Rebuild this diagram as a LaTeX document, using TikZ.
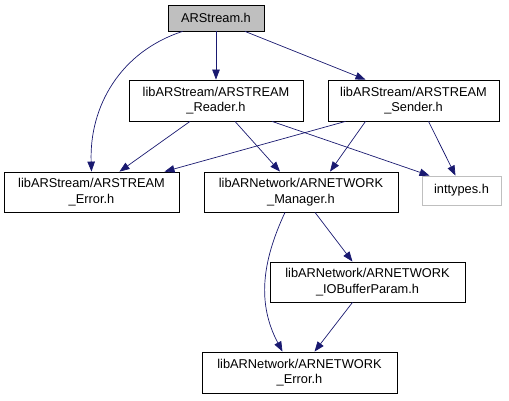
\documentclass[tikz,border=0pt]{standalone}
\usepackage{fontspec}
\setmainfont{Liberation Sans}
\usetikzlibrary{positioning, arrows.meta}
\definecolor{edge}{HTML}{191970}
\definecolor{topfill}{HTML}{BFBFBF}
\definecolor{extern}{HTML}{BFBFBF}

\begin{document}
\begin{tikzpicture}[
    x=1pt, y=-1pt,
    >={Triangle[length=10pt,width=7.5pt,fill=edge]},
    font=\fontsize{12.8}{15.5}\selectfont,
    file/.style={
        draw,
        align=center,
        minimum height=41pt,
        inner sep=2pt,
        line width=0.8pt
    },
    current/.style={file, fill=topfill, minimum height=26pt},
    ext/.style={file, draw=extern, minimum height=29pt},
    dep/.style={->, draw=edge, line width=0.7pt}
]
\useasboundingbox (0,0) rectangle (509,400);

\node[current, minimum width=96pt] (arstream) at (216,18) {ARStream.h};
\node[file, minimum width=174pt] (reader) at (216,100.5) {libARStream/ARSTREAM\\\_Reader.h};
\node[file, minimum width=171pt] (sender) at (413.5,100.5) {libARStream/ARSTREAM\\\_Sender.h};
\node[file, minimum width=175pt, minimum height=40pt] (serror) at (91.5,192) {libARStream/ARSTREAM\\\_Error.h};
\node[file, minimum width=194pt, minimum height=40pt] (manager) at (301,192) {libARNetwork/ARNETWORK\\\_Manager.h};
\node[ext, minimum width=79pt] (inttypes) at (461.5,190.5) {inttypes.h};
\node[file, minimum width=195pt, minimum height=40pt] (iobuffer) at (367.5,282) {libARNetwork/ARNETWORK\\\_IOBufferParam.h};
\node[file, minimum width=195pt] (nerror) at (299.5,372.5) {libARNetwork/ARNETWORK\\\_Error.h};

% includes of ARStream.h
\draw[dep] ([xshift=15pt]arstream.south west) to[out=198, in=92] (serror.north);
\draw[dep] (arstream) -- (reader);
\draw[dep] ([xshift=29pt]arstream.south) -- ([xshift=-48pt]sender.north);

% includes of the reader and the sender
\draw[dep] ([xshift=-26pt]reader.south) -- ([xshift=28pt]serror.north);
\draw[dep] ([xshift=19pt]reader.south) -- ([xshift=-21pt]manager.north);
\draw[dep] ([xshift=56pt]reader.south) -- ([xshift=-32pt]inttypes.north);
\draw[dep] ([xshift=-68pt]sender.south) -- ([xshift=73pt]serror.north);
\draw[dep] ([xshift=-48pt]sender.south) -- ([xshift=29pt]manager.north);
\draw[dep] ([xshift=15pt]sender.south) -- ([xshift=-6pt]inttypes.north);

% network side
\draw[dep] ([xshift=-16pt]manager.south) to[out=245, in=118] ([xshift=-17pt]nerror.north);
\draw[dep] ([xshift=14pt]manager.south) -- ([xshift=-15pt]iobuffer.north);
\draw[dep] ([xshift=-15pt]iobuffer.south) -- ([xshift=15pt]nerror.north);

\end{tikzpicture}
\end{document}
